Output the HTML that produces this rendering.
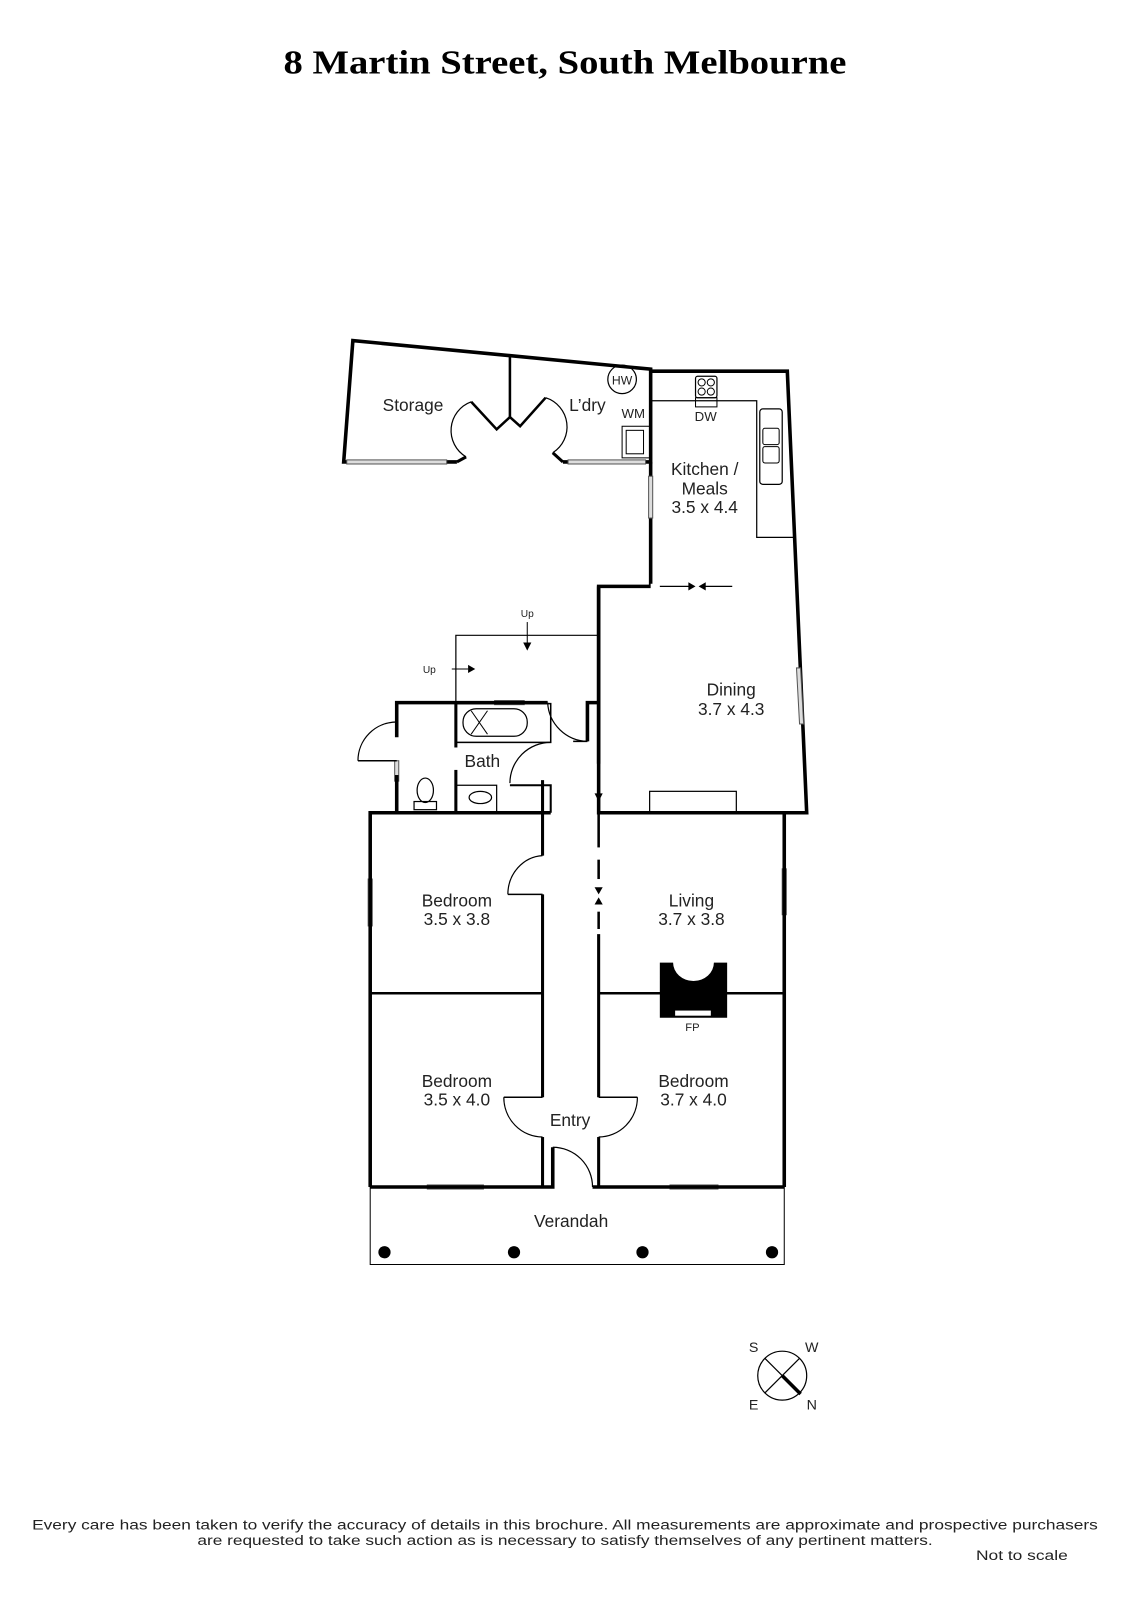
<!DOCTYPE html>
<html><head><meta charset="utf-8"><style>
html,body{margin:0;padding:0;background:#fff;}
svg{display:block;}
text{font-family:"Liberation Sans",sans-serif;fill:#222;}
</style></head><body>
<svg width="1131" height="1600" viewBox="0 0 1109 1569" preserveAspectRatio="none" xmlns="http://www.w3.org/2000/svg">
<rect width="1109" height="1569" fill="#fff"/>
<text x="554" y="72" text-anchor="middle" style="font-family:'Liberation Serif',serif;font-weight:bold;fill:#000" font-size="33" textLength="552" lengthAdjust="spacingAndGlyphs">8 Martin Street, South Melbourne</text>

<g fill="none" stroke="#000" stroke-linejoin="miter">
<!-- storage / laundry -->
<polyline points="448,453 337,453 346,334 638,362 638,453 552,453" stroke-width="3.5"/>
<line x1="500" y1="348" x2="500" y2="409" stroke-width="2.5"/>
<polyline points="462,394 487,421 500,409 510,418 535,390" stroke-width="2.5"/>
<path d="M462,394 A30,30 0 0 0 457,448" stroke-width="1.2"/>
<path d="M535,390 A30,30 0 0 1 542,444" stroke-width="1.2"/>
<line x1="448" y1="453" x2="457" y2="448" stroke-width="3"/>
<line x1="552" y1="453" x2="542" y2="444" stroke-width="3"/>
<circle cx="610" cy="372" r="14" stroke-width="1.2"/>
<rect x="610" y="418" width="27" height="31" stroke-width="1"/>
<rect x="614" y="422" width="17" height="23" stroke-width="1"/>

<!-- kitchen -->
<polyline points="638,364 772,364 791,797 587,797 587,575 638,575 638,453" stroke-width="3.5"/>
<line x1="587" y1="797" x2="587" y2="797"/>
<polyline points="639,393 742,393 742,527 778,527" stroke-width="1.2"/>
<rect x="682" y="369" width="21" height="21" rx="2" stroke-width="1.2"/>
<circle cx="688" cy="375" r="3.5" stroke-width="1"/><circle cx="697" cy="375" r="3.5" stroke-width="1"/>
<circle cx="688" cy="384" r="3.5" stroke-width="1"/><circle cx="697" cy="384" r="3.5" stroke-width="1"/>
<rect x="682" y="390" width="21" height="9" stroke-width="1"/>
<rect x="745" y="401" width="22" height="74" rx="3" stroke-width="1.2"/>
<rect x="748" y="420" width="16" height="16" rx="2" stroke-width="1"/>
<rect x="748" y="438" width="16" height="16" rx="2" stroke-width="1"/>
</g>
<!-- kitchen/dining opening -->
<rect x="636" y="576" width="90" height="0" />
<line x1="638" y1="575" x2="723" y2="575" stroke="#fff" stroke-width="5"/>
<line x1="647" y1="575" x2="677" y2="575" stroke="#000" stroke-width="1.2"/>
<polygon points="675,571 682,575 675,579" fill="#000"/>
<polygon points="692,571 685,575 692,579" fill="#000"/>
<line x1="690" y1="575" x2="718" y2="575" stroke="#000" stroke-width="1.2"/>
<!-- windows -->
<g fill="#ddd" stroke="#555" stroke-width="1">
<rect x="340" y="451" width="98" height="4"/>
<rect x="557" y="451" width="76" height="4"/>
<rect x="636" y="467" width="4" height="41"/>
<polygon points="781,655 785,655 788,710 784,710"/>
<rect x="485" y="687" width="29" height="4"/>
<rect x="387" y="746" width="4" height="20"/>
<rect x="361" y="862" width="4" height="46"/>
<rect x="767" y="852" width="4" height="45"/>
<rect x="419" y="1162" width="55" height="4"/>
<rect x="657" y="1162" width="47" height="4"/>
</g>

<g fill="none" stroke="#000">
<!-- stairs -->
<polyline points="587,623 447,623 447,689" stroke-width="1.2"/>
<line x1="517" y1="610" x2="517" y2="632" stroke-width="1"/>
<line x1="415" y1="656" x2="440" y2="656" stroke-width="0"/>
<line x1="443" y1="656" x2="459" y2="656" stroke-width="1"/>
<!-- bath block -->
<polyline points="389,723 389,689 537,689" stroke-width="3.5"/>
<polyline points="389,760 389,797" stroke-width="3.5"/>
<polyline points="576,727 576,689 587,689" stroke-width="3.5"/>
<line x1="351" y1="746" x2="389" y2="746" stroke-width="1.5"/>
<path d="M351,746 A38,38 0 0 1 389,708" stroke-width="1.2"/>
<path d="M537,689 A40,40 0 0 0 576,727" stroke-width="1.2"/>
<line x1="562" y1="727" x2="576" y2="727" stroke-width="1.5"/>
<line x1="447" y1="689" x2="447" y2="733" stroke-width="3"/>
<line x1="447" y1="755" x2="447" y2="797" stroke-width="3"/>
<rect x="447" y="690" width="93" height="38" stroke-width="1.5"/>
<rect x="454" y="695" width="63" height="27" rx="13" stroke-width="1.2"/>
<line x1="462" y1="697" x2="478" y2="720" stroke-width="1"/>
<line x1="478" y1="697" x2="462" y2="720" stroke-width="1"/>
<path d="M540,728 A40,40 0 0 0 500,768" stroke-width="1.2"/>
<polyline points="500,770 540,770 540,797" stroke-width="2"/>
<polyline points="447,770 487,770 487,797" stroke-width="1.2"/>
<ellipse cx="471" cy="782" rx="11" ry="6" stroke-width="1.2"/>
<ellipse cx="417" cy="775" rx="8" ry="12" stroke-width="1.2"/>
<rect x="406" y="786" width="22" height="8" stroke-width="1.2"/>
<!-- hall right wall upper + arrow -->
<line x1="587" y1="575" x2="587" y2="749" stroke-width="3.5"/>
<line x1="587" y1="749" x2="587" y2="780" stroke-width="1.2"/>
<!-- lower block -->
<polyline points="363,1164 363,797 540,797" stroke-width="3.5"/>
<polyline points="389,797 363,797" stroke-width="3.5"/>
<line x1="587" y1="797" x2="791" y2="797" stroke-width="3.5"/>
<line x1="769" y1="797" x2="769" y2="1164" stroke-width="3.5"/>
<line x1="532" y1="765" x2="532" y2="839" stroke-width="3"/>
<line x1="532" y1="877" x2="532" y2="1076" stroke-width="3"/>
<line x1="532" y1="1115" x2="532" y2="1164" stroke-width="3"/>
<line x1="587" y1="797" x2="587" y2="831" stroke-width="2.5"/>
<line x1="587" y1="843" x2="587" y2="862" stroke-width="2.5"/>
<line x1="587" y1="894" x2="587" y2="911" stroke-width="2.5"/>
<line x1="587" y1="916" x2="587" y2="1076" stroke-width="3"/>
<line x1="587" y1="1115" x2="587" y2="1164" stroke-width="3"/>
<line x1="363" y1="974" x2="532" y2="974" stroke-width="2.5"/>
<line x1="587" y1="974" x2="769" y2="974" stroke-width="2.5"/>
<line x1="498" y1="877" x2="532" y2="877" stroke-width="1.5"/>
<path d="M532,839 A36,38 0 0 0 498,877" stroke-width="1.2"/>
<line x1="494" y1="1076" x2="532" y2="1076" stroke-width="1.5"/>
<path d="M494,1076 A38,39 0 0 0 532,1115" stroke-width="1.2"/>
<line x1="587" y1="1076" x2="625" y2="1076" stroke-width="1.5"/>
<path d="M625,1076 A38,39 0 0 1 587,1115" stroke-width="1.2"/>
<polyline points="363,1164 542,1164 542,1125" stroke-width="3.5"/>
<line x1="581" y1="1164" x2="769" y2="1164" stroke-width="3.5"/>
<path d="M542,1125 A39,39 0 0 1 581,1164" stroke-width="1.2"/>
<rect x="637" y="776" width="85" height="21" stroke-width="1.2"/>
<polyline points="363,1164 363,1240 769,1240 769,1164" stroke-width="1"/>
<circle cx="767" cy="1349" r="24" stroke-width="1.2"/>
<line x1="750" y1="1332" x2="784" y2="1366" stroke-width="1.2"/>
<line x1="784" y1="1332" x2="750" y2="1366" stroke-width="1.2"/>
<line x1="767" y1="1349" x2="785" y2="1367" stroke-width="3.5"/>
</g>
<g fill="#000">
<polygon points="513,630 521,630 517,638"/>
<polygon points="459,652 459,660 466,656"/>
<polygon points="583,778 591,778 587,786"/>
<polygon points="583,870 591,870 587,877"/>
<polygon points="583,887 591,887 587,880"/>
<path d="M647,944 L660,944 A20,18 0 0 0 700,944 L713,944 L713,998 L647,998 Z"/>
<circle cx="377" cy="1228" r="6"/><circle cx="504" cy="1228" r="6"/>
<circle cx="630" cy="1228" r="6"/><circle cx="757" cy="1228" r="6"/>
</g>
<rect x="662" y="991" width="35" height="5" fill="#fff"/>

<g font-size="17" text-anchor="middle">
<text x="405" y="403">Storage</text>
<text x="576" y="403">L’dry</text>
<text x="691" y="466">Kitchen /</text>
<text x="691" y="485">Meals</text>
<text x="691" y="503">3.5 x 4.4</text>
<text x="717" y="682">Dining</text>
<text x="717" y="701">3.7 x 4.3</text>
<text x="473" y="752">Bath</text>
<text x="448" y="889">Bedroom</text><text x="448" y="907">3.5 x 3.8</text>
<text x="678" y="889">Living</text><text x="678" y="907">3.7 x 3.8</text>
<text x="448" y="1066">Bedroom</text><text x="448" y="1084">3.5 x 4.0</text>
<text x="680" y="1066">Bedroom</text><text x="680" y="1084">3.7 x 4.0</text>
<text x="559" y="1104">Entry</text>
<text x="560" y="1203">Verandah</text>
</g>
<g font-size="13" text-anchor="middle">
<text x="621" y="410">WM</text>
<text x="692" y="413">DW</text>
<text x="610" y="377" font-size="12">HW</text>
<text x="679" y="1011" font-size="11">FP</text>
<text x="517" y="605" font-size="10">Up</text>
<text x="421" y="660" font-size="10">Up</text>
<text x="739" y="1326" font-size="14">S</text>
<text x="796" y="1326" font-size="14">W</text>
<text x="739" y="1382" font-size="14">E</text>
<text x="796" y="1382" font-size="14">N</text>
</g>
<g font-size="14" text-anchor="middle">
<text x="554" y="1500" textLength="1045" lengthAdjust="spacingAndGlyphs">Every care has been taken to verify the accuracy of details in this brochure.  All measurements are approximate and prospective purchasers</text>
<text x="554" y="1515" textLength="721" lengthAdjust="spacingAndGlyphs">are requested to take such action as is necessary to satisfy themselves of any pertinent matters.</text>
<text x="1002" y="1530" textLength="90" lengthAdjust="spacingAndGlyphs">Not to scale</text>
</g>
</svg>
</body></html>
